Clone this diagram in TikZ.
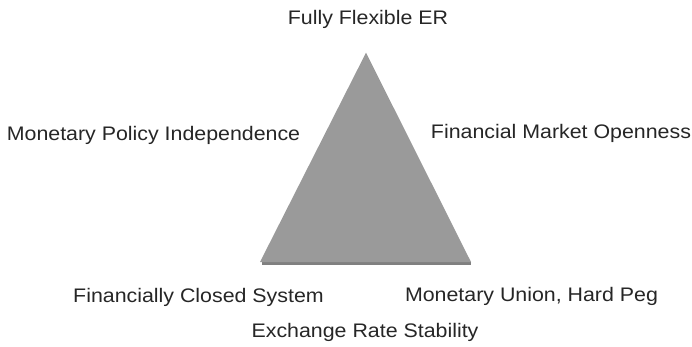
\documentclass[tikz,border=0pt]{standalone}
\usepackage{fontspec}
\setmainfont{Liberation Sans}[FakeStretch=1.09]
\usepackage{tikz}
\usetikzlibrary{positioning}
\definecolor{trigray}{RGB}{154,154,154}
\definecolor{shadegray}{RGB}{128,128,128}
\tikzstyle{corner} = [text=black!85,inner sep=0pt,anchor=base,font=\fontsize{19.6}{23}\selectfont]
\tikzstyle{tri} = [fill=trigray,draw=none]

\begin{document}
\begin{tikzpicture}[x=1pt,y=1pt]
\useasboundingbox (0,0) rectangle (692,346);
\coordinate (apex) at (366,293.3);
\coordinate (bl) at (260,84);
\coordinate (br) at (471,84);
\fill [shadegray] (262,81) rectangle (471,84);
\filldraw [tri] (apex) -- (bl) -- (br) -- cycle;
\node (flex) [corner] at (368,321) {Fully Flexible ER};
\node (indep) [corner] at (153.5,206) {Monetary Policy Independence};
\node (open) [corner] at (561,207.3) {Financial Market Openness};
\node (closed) [corner] at (198.5,44) {Financially Closed System};
\node (union) [corner] at (531.5,45) {Monetary Union, Hard Peg};
\node (stab) [corner] at (365,8.7) {Exchange Rate Stability};
\end{tikzpicture}
\end{document}
